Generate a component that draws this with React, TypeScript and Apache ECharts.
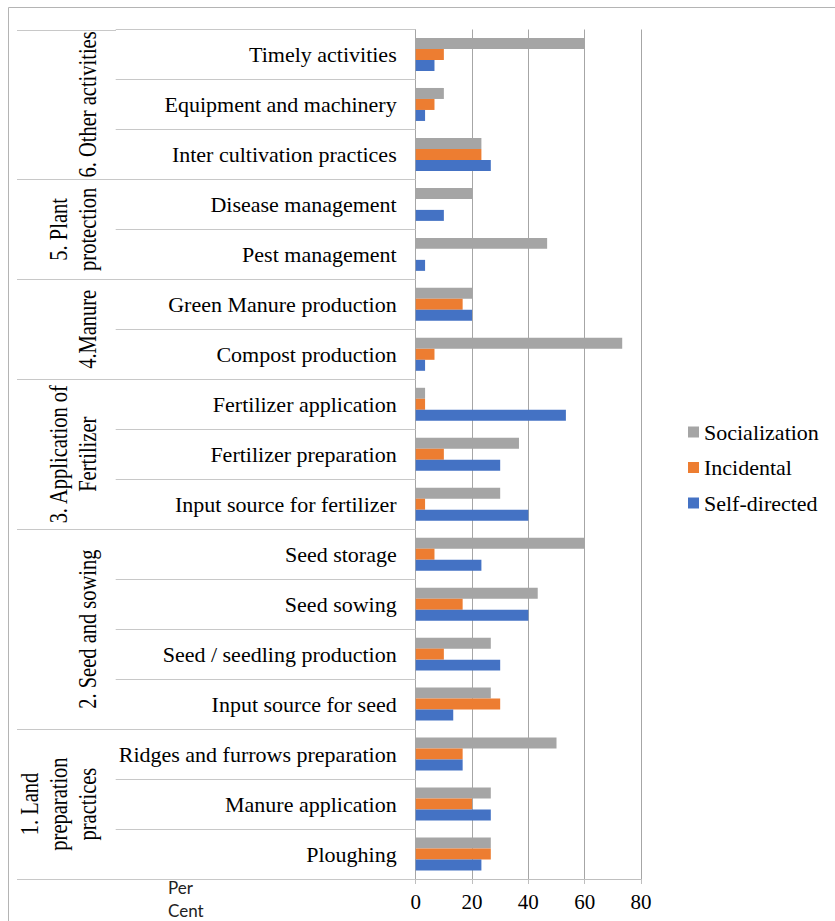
import React, { useEffect, useRef } from "react";
import * as echarts from "echarts";

const categories = [
  "Ploughing",
  "Manure application",
  "Ridges and furrows preparation",
  "Input source for seed",
  "Seed / seedling production",
  "Seed sowing",
  "Seed storage",
  "Input source for fertilizer",
  "Fertilizer preparation",
  "Fertilizer application",
  "Compost production",
  "Green Manure production",
  "Pest management",
  "Disease management",
  "Inter cultivation practices",
  "Equipment and machinery",
  "Timely activities",
];

const selfDirected = [23.33, 26.67, 16.67, 13.33, 30, 40, 23.33, 40, 30, 53.33, 3.33, 20, 3.33, 10, 26.67, 3.33, 6.67];
const incidental = [26.67, 20, 16.67, 30, 10, 16.67, 6.67, 3.33, 10, 3.33, 6.67, 16.67, 0, 0, 23.33, 6.67, 10];
const socialization = [26.67, 26.67, 50, 26.67, 26.67, 43.33, 60, 30, 36.67, 3.33, 73.33, 20, 46.67, 20, 23.33, 10, 60];

const seriesNames = ["Socialization", "Incidental", "Self-directed"];
const seriesColors = ["#A5A5A5", "#ED7D31", "#4472C4"];

const xMin = 0;
const xMax = 80;
const xInterval = 20;

const groups = [
  { lines: ["1. Land", "preparation", "practices"], from: 0, to: 2 },
  { lines: ["2. Seed and sowing"], from: 3, to: 6 },
  { lines: ["3. Application of", "Fertilizer"], from: 7, to: 9 },
  { lines: ["4.Manure"], from: 10, to: 11 },
  { lines: ["5. Plant", "protection"], from: 12, to: 13 },
  { lines: ["6. Other activities"], from: 14, to: 16 },
];

const axisTitleLines = ["Per", "Cent"];

const SERIF = '"Liberation Serif", "Times New Roman", serif';
const SANS = 'Lato, "Open Sans", sans-serif';

export default function App() {
  const ref = useRef<HTMLDivElement>(null);

  useEffect(() => {
    if (!ref.current) return;
    const chart = echarts.init(ref.current, undefined, { renderer: "svg" });
    const dataSets = [socialization, incidental, selfDirected];

    chart.setOption({
      animation: false,
      backgroundColor: "#ffffff",
      grid: { left: 415.7, right: 194, top: 29.5, bottom: 42, containLabel: false },
      legend: {
        data: seriesNames,
        orient: "vertical",
        left: 688,
        top: 421,
        itemWidth: 11,
        itemHeight: 11,
        itemGap: 13.5,
        padding: 0,
        icon: "rect",
        textStyle: { fontFamily: SERIF, fontSize: 22, color: "#000" },
      },
      xAxis: {
        type: "value",
        min: xMin,
        max: xMax,
        interval: xInterval,
        axisLine: { show: true, lineStyle: { color: "#bfbfbf", width: 1 } },
        axisTick: { show: true, length: 5, lineStyle: { color: "#bfbfbf" } },
        splitLine: { show: true, lineStyle: { color: "#a6a6a6", width: 1 } },
        axisLabel: { fontFamily: SERIF, fontSize: 21, color: "#000", margin: 12 },
      },
      yAxis: {
        type: "category",
        data: categories,
        axisLine: { show: true, lineStyle: { color: "#a6a6a6", width: 1 } },
        axisTick: { show: true, length: 300, interval: 0, lineStyle: { color: "#c8c8c8" } },
        axisLabel: { fontFamily: SERIF, fontSize: 22, color: "#000", margin: 19, interval: 0 },
        splitLine: { show: false },
      },
      series: seriesNames.map((name, i) => ({
        name,
        type: "bar",
        data: dataSets[i],
        barGap: "0%",
        barCategoryGap: "34%",
        itemStyle: { color: seriesColors[i] },
      })),
    });

    const c0 = chart.convertToPixel({ yAxisIndex: 0 }, categories[0]) as number;
    const c1 = chart.convertToPixel({ yAxisIndex: 0 }, categories[1]) as number;
    const step = c1 - c0; // negative (upwards)
    const boundaryBelow = (k: number) => (chart.convertToPixel({ yAxisIndex: 0 }, categories[k]) as number) - step / 2;
    const boundaryAbove = (k: number) => (chart.convertToPixel({ yAxisIndex: 0 }, categories[k]) as number) + step / 2;

    const graphics: any[] = [];
    graphics.push({
      type: "rect",
      shape: { x: 8.5, y: 7.5, width: 1000, height: 1000 },
      style: { fill: "none", stroke: "#b4b4b4", lineWidth: 1 },
      silent: true,
    });
    const boundaries = new Set<number>();
    groups.forEach((g) => {
      boundaries.add(boundaryBelow(g.from));
      boundaries.add(boundaryAbove(g.to));
    });
    boundaries.forEach((y) => {
      const yy = Math.round(y) + 0.5;
      graphics.push({
        type: "line",
        shape: { x1: 17, y1: yy, x2: 116, y2: yy },
        style: { stroke: "#c8c8c8", lineWidth: 1 },
        silent: true,
      });
    });
    groups.forEach((g) => {
      const yMid = (boundaryBelow(g.from) + boundaryAbove(g.to)) / 2;
      const n = g.lines.length;
      g.lines.forEach((line, i) => {
        graphics.push({
          type: "text",
          x: 88 - (n - 1 - i) * 29,
          y: yMid,
          rotation: Math.PI / 2,
          scaleY: 1.2,
          style: {
            text: line,
            fontFamily: SERIF,
            fontSize: 20.5,
            fill: "#000",
            align: "center",
            verticalAlign: "middle",
          },
          silent: true,
        });
      });
    });
    axisTitleLines.forEach((t, i) => {
      graphics.push({
        type: "text",
        x: 168,
        y: 887 + i * 23,
        style: { text: t, fontFamily: SANS, fontSize: 17, fill: "#222", align: "left", verticalAlign: "middle" },
        silent: true,
      });
    });
    chart.setOption({ graphic: graphics });

    return () => chart.dispose();
  }, []);

  return (
    <div
      ref={ref}
      style={{ position: "absolute", left: 0, top: 0, width: 835, height: 921 }}
    />
  );
}
